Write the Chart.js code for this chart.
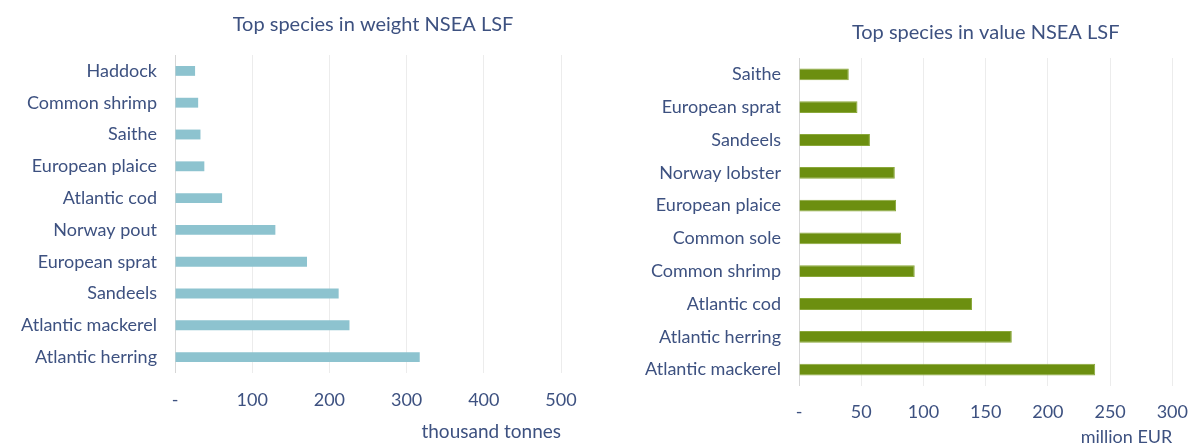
<!DOCTYPE html>
<html>
<head>
<meta charset="utf-8">
<script src="https://cdn.jsdelivr.net/npm/chart.js@4.4.1/dist/chart.umd.min.js"></script>
<style>
  body { margin: 0; background: #fff; }
  #wrap { position: relative; width: 1203px; height: 446px; }
  #weightChart { position: absolute; left: 0; top: 0; }
  #valueChart { position: absolute; left: 600px; top: 0; }
</style>
</head>
<body>
<div id="wrap">
  <canvas id="weightChart" width="600" height="446"></canvas>
  <canvas id="valueChart" width="603" height="446"></canvas>
</div>
<script>
// data - weight (thousand tonnes)
const weightSpecies = ['Haddock', 'Common shrimp', 'Saithe', 'European plaice', 'Atlantic cod',
  'Norway pout', 'European sprat', 'Sandeels', 'Atlantic mackerel', 'Atlantic herring'];
const weightValues = [26, 30, 33, 38, 61, 130, 171, 212, 226, 317];

// data - value (million EUR)
const valueSpecies = ['Saithe', 'European sprat', 'Sandeels', 'Norway lobster', 'European plaice',
  'Common sole', 'Common shrimp', 'Atlantic cod', 'Atlantic herring', 'Atlantic mackerel'];
const valueValues = [40, 47, 57, 77, 78, 82, 93, 139, 171, 238];

const textColor = '#3d5180';
const fontName = 'Lato';

// title centred over the plot area
const chartTitle = {
  id: 'chartTitle',
  afterDraw(chart, args, opts) {
    const { ctx, chartArea } = chart;
    ctx.save();
    ctx.font = '20px ' + fontName;
    ctx.fillStyle = textColor;
    ctx.textAlign = 'center';
    ctx.textBaseline = 'middle';
    ctx.fillText(opts.text, (chartArea.left + chartArea.right) / 2 + (opts.dx || 0), opts.y);
    ctx.restore();
  }
};

function makeChart(id, labels, values, cfg) {
  const ctx = document.getElementById(id).getContext('2d');
  return new Chart(ctx, {
    type: 'bar',
    data: {
      labels: labels,
      datasets: [{
        data: values,
        backgroundColor: cfg.color,
        borderColor: cfg.border,
        borderWidth: cfg.borderWidth,
        categoryPercentage: 1,
        barPercentage: cfg.barPct
      }]
    },
    plugins: [chartTitle],
    options: {
      indexAxis: 'y',
      responsive: false,
      animation: false,
      layout: { padding: { top: cfg.top, right: cfg.right, left: 0, bottom: 0 } },
      plugins: {
        legend: { display: false },
        tooltip: { enabled: false },
        chartTitle: { text: cfg.title, y: cfg.titleY, dx: cfg.titleDx }
      },
      scales: {
        x: {
          min: 0,
          max: cfg.max,
          afterFit(scale) { scale.height = cfg.xHeight; },
          border: { display: false },
          grid: {
            drawTicks: false,
            color: (c) => c.tick && c.tick.value === 0 ? '#d6d6d6' : '#ececec'
          },
          ticks: {
            stepSize: cfg.step,
            padding: cfg.tickPad,
            color: textColor,
            font: { family: fontName, size: 18 },
            callback: (v) => v === 0 ? '-' : v
          },
          title: {
            display: true,
            text: cfg.axisTitle,
            align: 'end',
            color: textColor,
            padding: { top: 0, bottom: cfg.titlePad },
            font: { family: fontName, size: cfg.axisTitleSize, lineHeight: 1 }
          }
        },
        y: {
          afterFit(scale) { scale.width = cfg.yWidth; },
          border: { display: false },
          grid: { display: false, drawTicks: false },
          ticks: {
            padding: 18,
            color: textColor,
            font: { family: fontName, size: 18 }
          }
        }
      }
    }
  });
}

makeChart('weightChart', weightSpecies, weightValues, {
  color: '#8dc3cf', border: '#8dc3cf', borderWidth: 0, barPct: 0.31,
  top: 55, right: 39, max: 500, step: 100, xHeight: 73, tickPad: 16,
  yWidth: 175, titlePad: 5, axisTitleSize: 19,
  title: 'Top species in weight NSEA LSF', titleY: 25, titleDx: 5,
  axisTitle: 'thousand tonnes'
});

makeChart('valueChart', valueSpecies, valueValues, {
  color: '#6c8f10', border: '#8aa83a', borderWidth: 1, barPct: 0.36,
  top: 58, right: 19, max: 300, step: 50, xHeight: 60, tickPad: 15,
  yWidth: 199, titlePad: 0, axisTitleSize: 18,
  title: 'Top species in value NSEA LSF', titleY: 33, titleDx: 0,
  axisTitle: 'million EUR'
});
</script>
</body>
</html>
